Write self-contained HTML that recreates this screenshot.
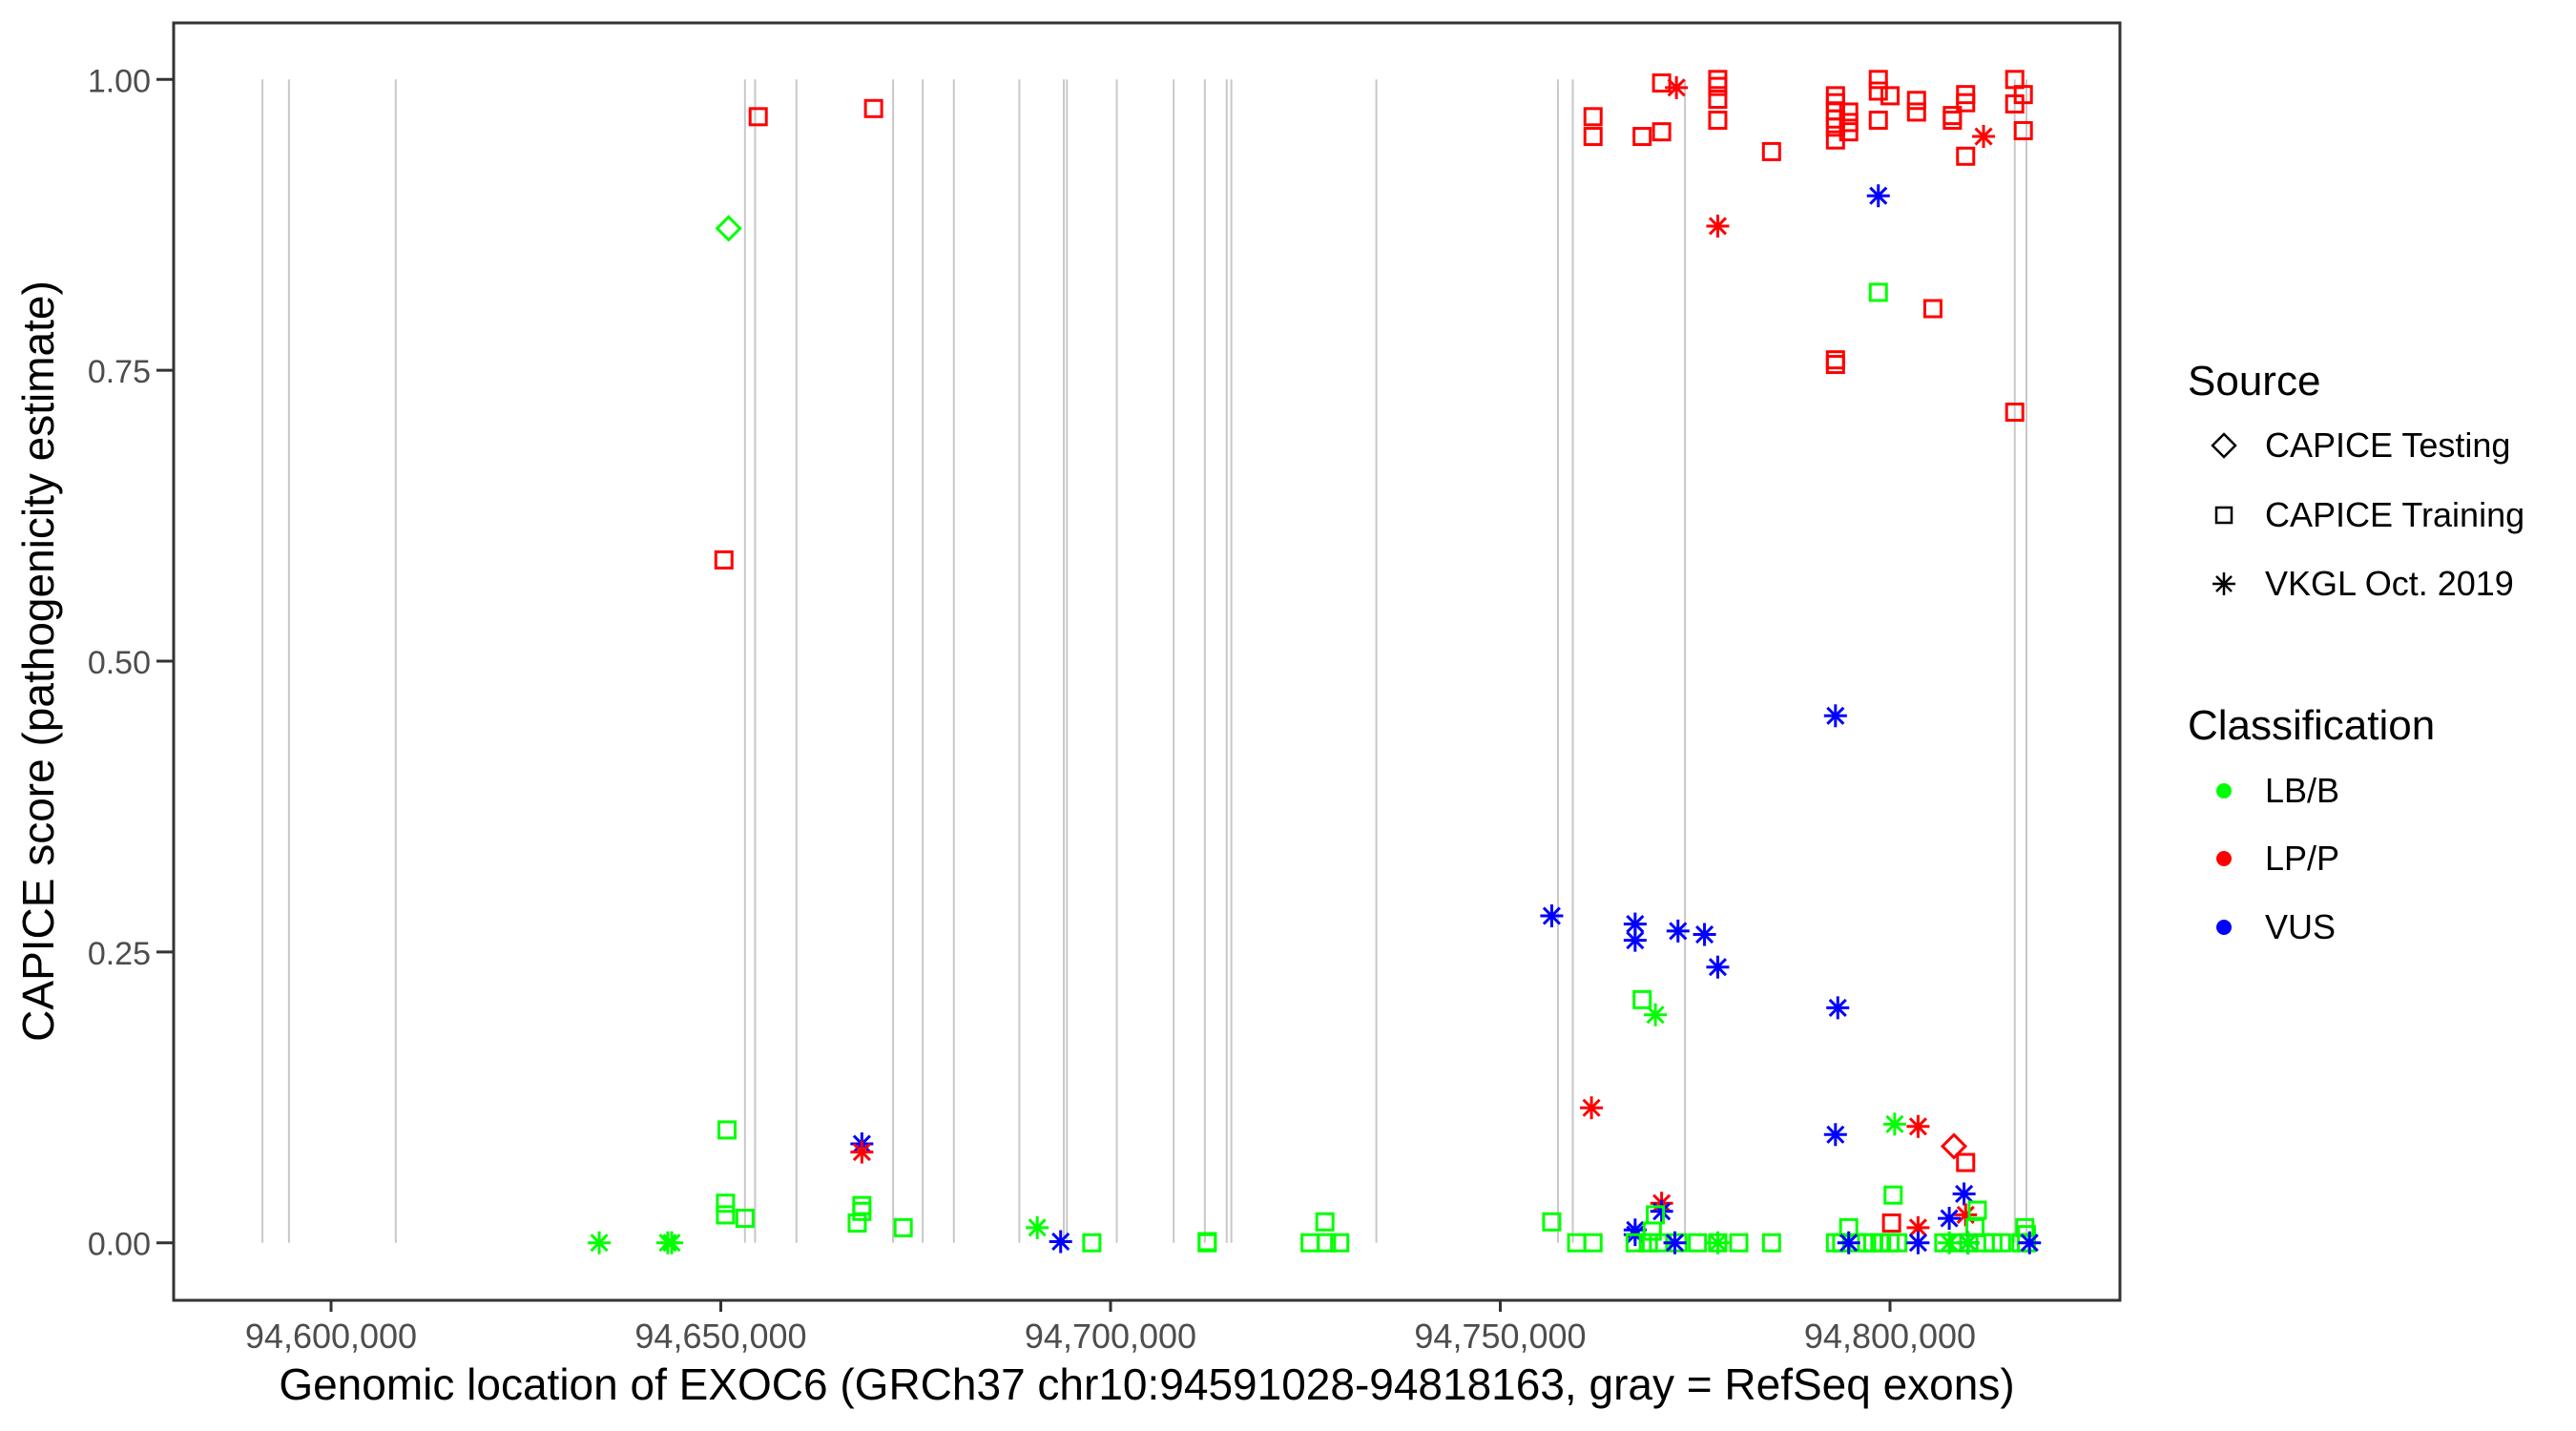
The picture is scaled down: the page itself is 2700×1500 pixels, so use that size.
<!DOCTYPE html>
<html><head><meta charset="utf-8"><style>
html,body{margin:0;padding:0;background:#fff;}
svg{display:block;font-family:"Liberation Sans",Arial,sans-serif;}
</style></head><body>
<svg id="chart" width="2700" height="1500" viewBox="0 0 2700 1500" xmlns="http://www.w3.org/2000/svg">
<rect x="0" y="0" width="2700" height="1500" fill="#fff"/>
<g id="exons"></g>
<g id="points"></g>
<rect x="182" y="24" width="2040" height="1339" fill="none" stroke="#333" stroke-width="3"/>
<g id="yaxis"></g>
<g id="xaxis"></g>
<text x="1202" y="1467" font-size="46" text-anchor="middle" fill="#000">Genomic location of EXOC6 (GRCh37 chr10:94591028-94818163, gray = RefSeq exons)</text>
<text transform="translate(56,693) rotate(-90)" font-size="46" text-anchor="middle" fill="#000">CAPICE score (pathogenicity estimate)</text>
<g>
<text x="2293" y="414" font-size="44">Source</text>
<polygon points="2331,455 2343,467 2331,479 2319,467" fill="none" stroke="#000" stroke-width="2.5"/>
<text x="2374" y="479" font-size="36">CAPICE Testing</text>
<rect x="2323" y="532" width="16" height="16" fill="none" stroke="#000" stroke-width="2.5"/>
<text x="2374" y="552" font-size="36">CAPICE Training</text>
<g stroke="#000" stroke-width="2.5">
<line x1="2319" y1="612" x2="2343" y2="612"/><line x1="2331" y1="600" x2="2331" y2="624"/>
<line x1="2323" y1="604" x2="2339" y2="620"/><line x1="2323" y1="620" x2="2339" y2="604"/></g>
<text x="2374" y="624" font-size="36">VKGL Oct. 2019</text>
</g>
<g>
<text x="2293" y="775" font-size="44">Classification</text>
<circle cx="2331" cy="829" r="8" fill="#00ff00"/>
<text x="2374" y="841" font-size="36">LB/B</text>
<circle cx="2331" cy="900" r="8" fill="#ff0000"/>
<text x="2374" y="912" font-size="36">LP/P</text>
<circle cx="2331" cy="972" r="8" fill="#0000ff"/>
<text x="2374" y="984" font-size="36">VUS</text>
</g>
</svg>
<script>
// genomic offsets (kb from 94,600,000)
const exonKb = [-8.8,-5.4,8.3,53.1,54.4,59.7,72.1,75.9,79.9,88.3,94.0,94.4,100.8,108.1,112.1,114.9,115.5,134.1,157.4,159.3,173.7,216.0,217.5];
const xTicks = [94600000,94650000,94700000,94750000,94800000];
const xTickLabels = ["94,600,000","94,650,000","94,700,000","94,750,000","94,800,000"];
const yTicks = [0,0.25,0.5,0.75,1];
const yTickLabels = ["0.00","0.25","0.50","0.75","1.00"];
// points: position kb, score, source (D/S/A), class (g/r/b)
const ptKb = [34.4,43.2,43.7,51.0,50.4,54.8,69.6,50.8,50.6,50.6,53.1,67.5,68.1,68.1,68.1,68.1,73.4,90.6,93.6,97.6,112.4,112.4,127.5,125.6,127.7,129.4,
156.6,156.6,159.8,161.9,161.9,161.9,161.7,168.2,170.7,170.7,172.6,167.3,167.3,172.8,176.2,177.9,168.2,169.9,170.7,170.7,169.9,167.3,167.3,169.5,
167.3,169.0,170.3,172.8,175.3,177.9,180.6,184.8,172.4,177.9,177.9,177.9,177.9,177.9,177.9,184.8,
193.0,193.0,193.0,193.0,193.0,193.0,194.7,194.7,194.7,198.5,198.5,198.5,200.0,198.5,198.5,193.0,193.0,205.5,203.4,203.4,208.0,208.0,209.7,209.7,209.7,212.0,216.0,216.0,217.1,217.1,216.0,
193.0,193.3,193.0,200.6,203.6,208.2,209.7,200.4,209.5,209.7,207.6,200.2,203.6,194.7,
193.0,193.8,195.7,197.0,197.8,198.7,200.0,201.0,206.9,209.0,210.1,212.2,213.2,214.3,216.8,217.5,210.9,211.2,217.3,217.5,
194.7,203.6,210.0,217.9,207.6,210.0];
const ptScore = [0,0,0,0.872,0.587,0.968,0.975,0.097,0.034,0.024,0.021,0.017,0.032,0.027,0.085,0.078,0.013,0.013,0.001,0,0.001,0,0.018,0,0,0,
0.018,0.281,0,0.968,0.951,0,0.116,0.951,0.955,0.997,0.993,0.274,0.260,0.268,0.265,0.237,0.209,0.196,0.034,0.027,0.024,0.011,0.007,0.010,
0,0,0,0,0,0,0,0,0,0,1.0,0.994,0.983,0.965,0.874,0.938,
0.986,0.980,0.973,0.966,0.959,0.948,0.972,0.963,0.955,1.0,0.990,0.965,0.986,0.900,0.817,0.755,0.759,0.803,0.982,0.972,0.969,0.965,0.987,0.980,0.934,0.951,1.0,0.979,0.987,0.956,0.714,
0.453,0.202,0.093,0.102,0.100,0.083,0.069,0.041,0.042,0.024,0.021,0.017,0.013,0.013,
0,0,0,0,0,0,0,0,0,0,0,0,0,0,0,0,0.013,0.028,0.013,0.007,
0,0,0,0,0,0];
const ptSource = ["A","A","A","D","S","S","S","S","S","S","S","S","S","S","A","A","S","A","A","S","S","S","S","S","S","S",
"S","A","S","S","S","S","A","S","S","S","A","A","A","A","A","A","S","A","A","A","S","A","A","S",
"S","S","S","S","S","S","S","S","A","A","S","S","S","S","A","S",
"S","S","S","S","S","S","S","S","S","S","S","S","S","A","S","S","S","S","S","S","S","S","S","S","S","A","S","S","S","S","S",
"A","A","A","A","A","D","S","S","A","A","A","S","A","S",
"S","S","S","S","S","S","S","S","S","S","S","S","S","S","S","S","S","S","S","S",
"A","A","A","A","A","A"];
const ptClass = ["g","g","g","g","r","r","r","g","g","g","g","g","g","g","b","r","g","g","b","g","g","g","g","g","g","g",
"g","b","g","r","r","g","r","r","r","r","r","b","b","b","b","b","g","g","r","b","g","b","b","g",
"g","g","g","g","g","g","g","g","b","g","r","r","r","r","r","r",
"r","r","r","r","r","r","r","r","r","r","r","r","r","b","g","r","r","r","r","r","r","r","r","r","r","r","r","r","r","r","r",
"b","b","b","g","r","r","r","g","b","r","b","r","r","g",
"g","g","g","g","g","g","g","g","g","g","g","g","g","g","g","g","g","g","g","g",
"b","b","b","b","g","g"];

const NS = "http://www.w3.org/2000/svg";
const colors = {g:"#00ff00", r:"#ff0000", b:"#0000ff"};
function xScale(pos){ return 347 + (pos - 94600000) / 1000 * 8.17; }
function yScale(s){ return 1302.7 - s * 1219.4; }
function mk(tag, attrs, parent){ const e=document.createElementNS(NS,tag); for(const k in attrs) e.setAttribute(k,attrs[k]); parent.appendChild(e); return e; }

const exG = document.getElementById("exons");
exonKb.forEach(k=>{
  const x = xScale(94600000 + k*1000);
  const l = mk("line",{x1:x,x2:x,y1:yScale(1),y2:yScale(0),stroke:"#c8c8c8","stroke-width":2},exG);
  
  
});

const yG = document.getElementById("yaxis");
yTicks.forEach((t,i)=>{
  const y = yScale(t);
  const tk = mk("line",{x1:164,x2:182,y1:y,y2:y,stroke:"#333","stroke-width":3},yG);
  
  
  const tx = mk("text",{x:158,y:y+13,"font-size":34,"text-anchor":"end",fill:"#4d4d4d"},yG);
  tx.textContent = yTickLabels[i];
  
  
});
const xG = document.getElementById("xaxis");
xTicks.forEach((t,i)=>{
  const x = xScale(t);
  const tk = mk("line",{x1:x,x2:x,y1:1363,y2:1375,stroke:"#333","stroke-width":3},xG);
  
  
  const tx = mk("text",{x:x,y:1413,"font-size":36,"text-anchor":"middle",fill:"#4d4d4d"},xG);
  tx.textContent = xTickLabels[i];
  
  
});

const pG = document.getElementById("points");
for(let i=0;i<ptKb.length;i++){
  const x = xScale(94600000 + ptKb[i]*1000), y = yScale(ptScore[i]);
  const c = colors[ptClass[i]];
  let el;
  if(ptSource[i]==="S"){
    el = mk("rect",{x:x-8.5,y:y-8.5,width:17,height:17,fill:"none",stroke:c,"stroke-width":3},pG);
  } else if(ptSource[i]==="D"){
    el = mk("polygon",{points:`${x},${y-12} ${x+12},${y} ${x},${y+12} ${x-12},${y}`,fill:"none",stroke:c,"stroke-width":3},pG);
  } else {
    el = mk("g",{stroke:c,"stroke-width":3},pG);
    mk("line",{x1:x-12,y1:y,x2:x+12,y2:y},el);
    mk("line",{x1:x,y1:y-12,x2:x,y2:y+12},el);
    mk("line",{x1:x-8.5,y1:y-8.5,x2:x+8.5,y2:y+8.5},el);
    mk("line",{x1:x-8.5,y1:y+8.5,x2:x+8.5,y2:y-8.5},el);
  }
  
  
}
</script>
</body></html>
